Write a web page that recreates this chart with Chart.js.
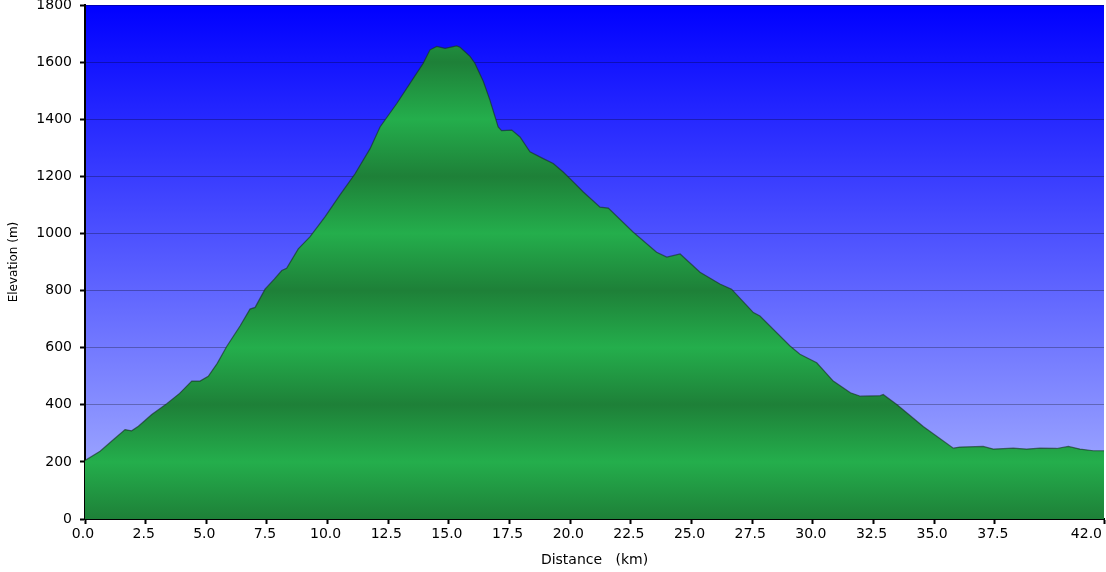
<!DOCTYPE html>
<html>
<head>
<meta charset="utf-8">
<title>Elevation profile</title>
<script src="https://cdn.jsdelivr.net/npm/chart.js@4/dist/chart.umd.min.js"></script>
<style>
  html, body { margin: 0; padding: 0; background: #fff; }
  canvas { display: block; }
</style>
</head>
<body>
<canvas id="profileChart" width="1106" height="572"></canvas>
<script>
// distance along the route (km)
const distanceKm = [
  0, 0.62, 1.2, 1.65, 1.92, 2.2, 2.75, 3.37, 3.9, 4.4,
  4.74, 5.08, 5.45, 5.84, 6.39, 6.8, 7.01, 7.42, 7.8, 8.11,
  8.31, 8.79, 9.27, 9.89, 10.51, 11.13, 11.75, 12.16, 12.85, 13.53,
  13.94, 14.22, 14.5, 14.84, 15.32, 15.46, 15.87, 16.07, 16.42, 16.69,
  17.03, 17.17, 17.59, 17.93, 18.34, 18.89, 19.3, 19.71, 19.99, 20.54,
  21.23, 21.57, 22.6, 23.56, 23.98, 24.53, 25.35, 26.17, 26.65, 27.55,
  27.82, 29.06, 29.47, 30.16, 30.84, 31.55, 31.96, 32.78, 32.9, 33.46,
  34.55, 35.79, 36.06, 37.02, 37.44, 38.26, 38.81, 39.36, 40.05, 40.53,
  41.01, 41.56, 42.0,
];

// elevation at each distance (m)
const elevationM = [
  205, 237, 280, 313, 309, 325, 366, 404, 440, 483,
  483, 500, 545, 604, 676, 735, 741, 805, 840, 870,
  878, 946, 988, 1058, 1135, 1209, 1297, 1373, 1455, 1543,
  1596, 1643, 1655, 1648, 1657, 1652, 1620, 1596, 1532, 1467,
  1373, 1360, 1362, 1338, 1286, 1262, 1245, 1215, 1192, 1145,
  1092, 1089, 1004, 934, 917, 928, 864, 823, 805, 723,
  711, 606, 577, 547, 483, 442, 430, 432, 436, 401,
  324, 248, 252, 254, 245, 248, 245, 248, 247, 254,
  245, 239, 239,
];

const xTicks = [0, 2.5, 5, 7.5, 10, 12.5, 15, 17.5, 20, 22.5, 25, 27.5, 30, 32.5, 35, 37.5, 42];
const yTicks = [0, 200, 400, 600, 800, 1000, 1200, 1400, 1600, 1800];

const FONT = '"DejaVu Sans", Verdana, sans-serif';

// sky behind the profile
const skyPlugin = {
  id: 'sky',
  beforeDraw(chart) {
    const { ctx, chartArea } = chart;
    if (!chartArea) return;
    const g = ctx.createLinearGradient(0, chartArea.top, 0, chartArea.bottom);
    g.addColorStop(0, 'rgb(0,0,255)');
    g.addColorStop(1, 'rgb(172,182,255)');
    ctx.save();
    ctx.fillStyle = g;
    ctx.fillRect(chartArea.left, chartArea.top, chartArea.right - chartArea.left, chartArea.bottom - chartArea.top);
    ctx.restore();
  },
};

// banded green: dark on every 400 m, light halfway between
function groundFill(context) {
  const chart = context.chart;
  const { ctx, chartArea, scales } = chart;
  if (!chartArea || !scales.y) return 'rgb(34,160,70)';
  const y = scales.y;
  const g = ctx.createLinearGradient(0, chartArea.bottom, 0, chartArea.top);
  const h = chartArea.bottom - chartArea.top;
  yTicks.forEach((v, i) => {
    const pos = (chartArea.bottom - y.getPixelForValue(v)) / h;
    g.addColorStop(Math.min(1, Math.max(0, pos)), i % 2 === 0 ? 'rgb(30,128,56)' : 'rgb(36,174,76)');
  });
  return g;
}

const points = distanceKm.map((d, i) => ({ x: d, y: elevationM[i] }));

new Chart(document.getElementById('profileChart'), {
  type: 'line',
  data: {
    datasets: [{
      data: points,
      fill: 'origin',
      backgroundColor: groundFill,
      borderColor: 'rgba(20,45,30,0.6)',
      borderWidth: 1.2,
      pointRadius: 0,
      tension: 0,
    }],
  },
  plugins: [skyPlugin],
  options: {
    responsive: false,
    animation: false,
    layout: { padding: { top: 5, right: 2, left: 0, bottom: 0 } },
    plugins: {
      legend: { display: false },
      tooltip: { enabled: false },
    },
    scales: {
      x: {
        type: 'linear',
        min: 0,
        max: 42,
        z: 1,
        afterBuildTicks: (axis) => { axis.ticks = xTicks.map((v) => ({ value: v })); },
        afterFit: (axis) => { axis.height = 53; axis.paddingLeft = 0; axis.paddingRight = 0; },
        ticks: {
          autoSkip: false,
          maxRotation: 0,
          padding: 2,
          labelOffset: -2,
          color: '#000',
          font: { family: FONT, size: 14 },
          // last label is pushed left so it stays inside the canvas
          callback: (v) => (v === 42 ? '42.0       ' : Number(v).toFixed(1)),
        },
        grid: { drawOnChartArea: false, tickColor: '#000', tickLength: 5, tickWidth: 2 },
        border: { color: '#000', width: 2 },
        title: {
          display: true,
          text: 'Distance   (km)',
          color: '#000',
          font: { family: FONT, size: 14 },
          padding: { top: 0, bottom: 3 },
        },
      },
      y: {
        type: 'linear',
        min: 0,
        max: 1800,
        z: 1,
        afterBuildTicks: (axis) => { axis.ticks = yTicks.map((v) => ({ value: v })); },
        afterFit: (axis) => { axis.width = 85; axis.paddingTop = 0; axis.paddingBottom = 0; },
        ticks: {
          padding: 8,
          color: '#000',
          font: { family: FONT, size: 14 },
          callback: (v) => String(v),
        },
        grid: { color: 'rgba(0,0,0,0.28)', lineWidth: 1, tickColor: '#000', tickLength: 5, tickWidth: 2 },
        border: { color: '#000', width: 2 },
        title: {
          display: true,
          text: 'Elevation (m)',
          color: '#000',
          font: { family: FONT, size: 12 },
          padding: { top: 7, bottom: 0 },
        },
      },
    },
  },
});
</script>
</body>
</html>
